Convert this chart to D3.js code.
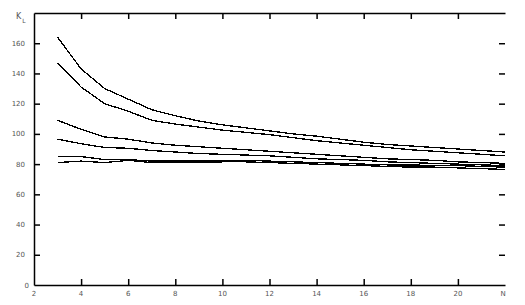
<!DOCTYPE html>
<html><head><meta charset="utf-8">
<script src="https://cdn.jsdelivr.net/npm/d3@7"></script>
<style>body{margin:0;background:#fff;} svg{display:block;}</style>
</head><body>
<script>
const nValues = [3,4,5,6,7,8,9,10,11,12,13,14,15,16,17,18,19,20,21,22];
const series1 = [164,143,130,123,116,112,108.5,106,104,102,100,98.5,96.5,94.5,93,92,91,90,89,88];
const series2 = [147,131,120,115,109,106.5,104.5,102.5,101,99.5,97.5,95.5,94,92.5,91,89.5,88.5,87.5,86.5,85.5];
const series3 = [109,103,98,96.5,94,92.5,91.5,90.5,89.5,88.5,87.5,86.5,85.5,84.5,83.5,83,82.5,81.5,81,80.5];
const series4 = [96.5,93.5,91,90.5,89,88,87,86.5,86,85.5,84.5,83.5,83,82.5,81.5,81,80.5,80,79.5,79];
const series5 = [85,85,83,83,82,82,82,82,82.5,82,81.5,81,80.5,80,79.5,79.5,79,79,78.5,78];
const series6 = [81,82,81,82.5,81,81,81,81.5,81.5,81,80.5,80,79.5,79,78.5,78,78,77.5,77,76.5];
const xTickValues = [2,4,6,8,10,12,14,16,18,20];
const xTickLabels = ["2","4","6","8","10","12","14","16","18","20"];
const yTickValues = [0,20,40,60,80,100,120,140,160];
const xLabel = "N";
const yLabelMain = "K";
const yLabelSub = "L";

const W = 525, H = 305;
const svg = d3.select("body").append("svg").attr("width", W).attr("height", H);
const x = d3.scaleLinear().domain([2,22]).range([34,505]);
const y = d3.scaleLinear().domain([0,180]).range([285,13]);

// axes via d3 (ticks inward)
const xBottom = d3.axisBottom(x).tickValues(xTickValues.filter(v=>v>2)).tickSizeInner(-6).tickSizeOuter(0).tickFormat("");
const xTop = d3.axisTop(x).tickValues(xTickValues.filter(v=>v>2)).tickSizeInner(-6).tickSizeOuter(0).tickFormat("");
const yLeft = d3.axisLeft(y).tickValues(yTickValues.filter(v=>v>0)).tickSizeInner(-6).tickSizeOuter(0).tickFormat("");
const yRight = d3.axisRight(y).tickValues(yTickValues.filter(v=>v>0)).tickSizeInner(-6).tickSizeOuter(0).tickFormat("");

const styleAxis = g => { g.select(".domain").attr("stroke","#000").attr("stroke-width",1.5); g.selectAll(".tick line").attr("stroke","#000").attr("stroke-width",1.5); };
svg.append("g").attr("transform",`translate(0,${y(0)})`).call(xBottom).call(styleAxis);
svg.append("g").attr("transform",`translate(0,${y(180)})`).call(xTop).call(styleAxis);
svg.append("g").attr("transform",`translate(${x(2)},0)`).call(yLeft).call(styleAxis);
svg.append("g").attr("transform",`translate(${x(22)},0)`).call(yRight).call(styleAxis).call(g=>g.select(".domain").remove());

// tick labels
const lab = svg.append("g").attr("font-family","DejaVu Sans, sans-serif").attr("font-size","7px").attr("fill","#555");
xTickValues.forEach((v,i)=>{
  lab.append("text").attr("x",x(v)).attr("y",296).attr("text-anchor","middle").text(xTickLabels[i]);
});
lab.append("text").attr("x",x(22)-2).attr("y",296).attr("text-anchor","middle").text(xLabel);
yTickValues.forEach(v=>{
  lab.append("text").attr("x",v===0?29:25).attr("y",y(v)+2.5).attr("text-anchor","end").text(v);
});
const yl = lab.append("text").attr("x",16).attr("y",19);
yl.append("tspan").attr("font-size","8px").text(yLabelMain);
yl.append("tspan").attr("dx",1).attr("dy",4).attr("font-size","6px").text(yLabelSub);

// lines
const line = d3.line().x((d,i)=>x(nValues[i])).y(d=>y(d));
[series1,series2,series3,series4,series5,series6].forEach(s=>{
  svg.append("path").datum(s).attr("d",line).attr("fill","none")
    .attr("stroke","#000").attr("stroke-width",1.3).attr("shape-rendering","crispEdges");
});
</script>
</body></html>
